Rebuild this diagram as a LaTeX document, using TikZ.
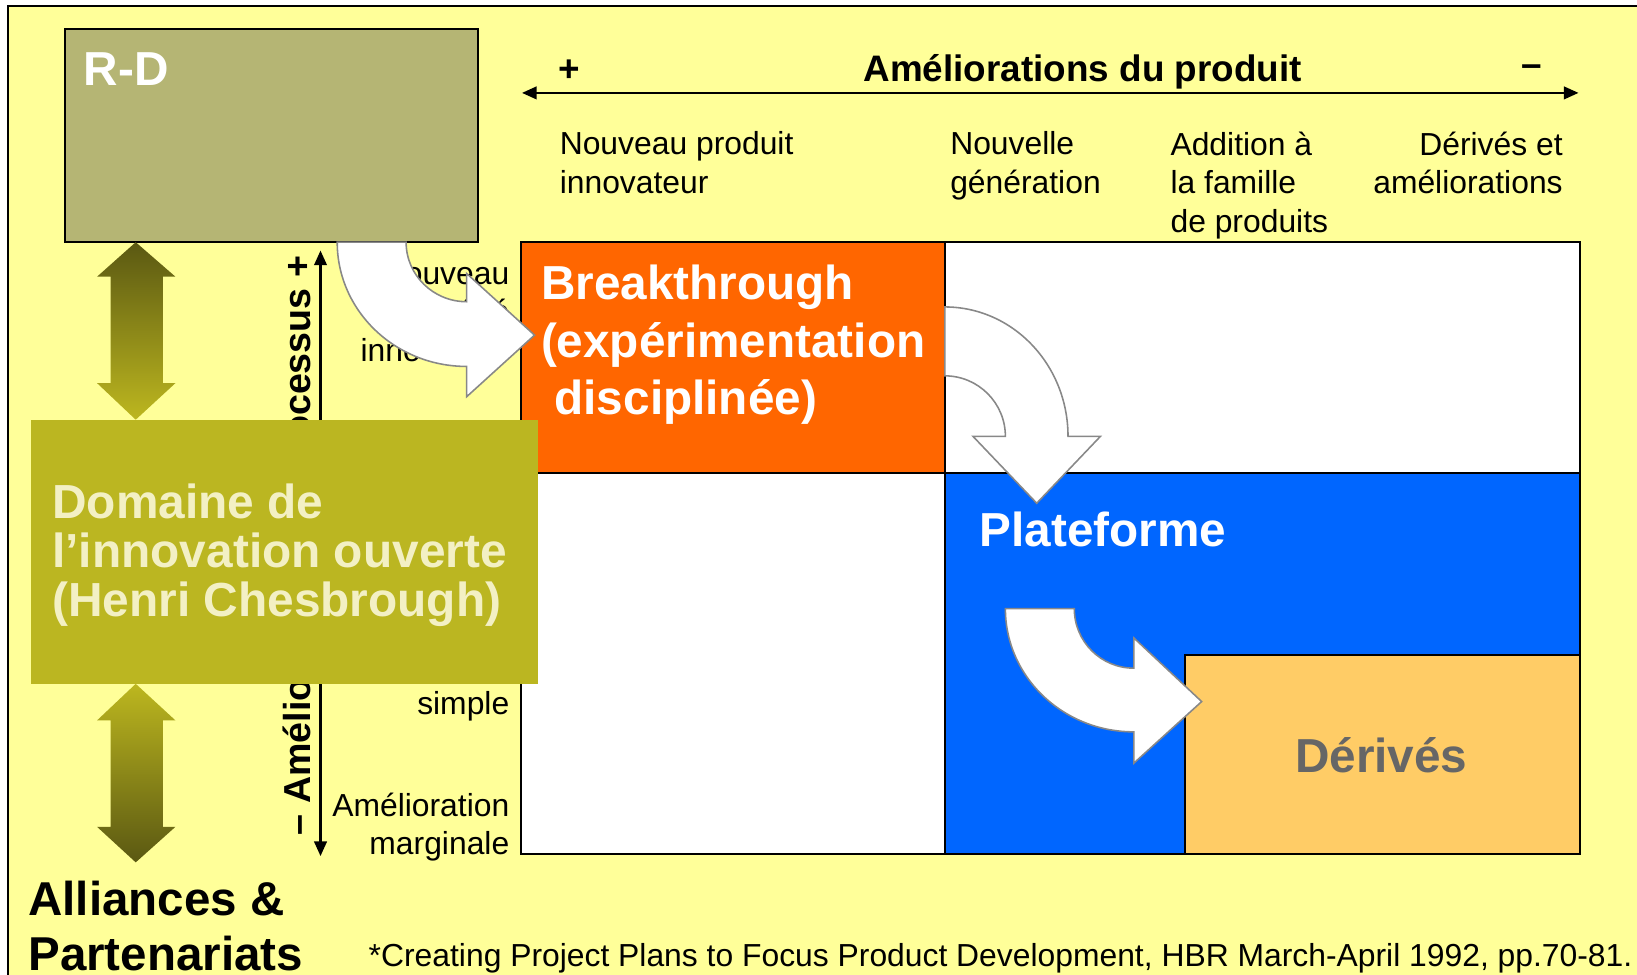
\documentclass[tikz,border=0pt]{standalone}
\usepackage{fontspec}
\setmainfont{Liberation Sans}
\usetikzlibrary{arrows.meta}
\definecolor{bgyellow}{HTML}{FFFF99}
\definecolor{rdfill}{HTML}{B5B574}
\definecolor{domfill}{HTML}{BBB621}
\definecolor{domtext}{HTML}{F3F0C4}
\definecolor{darkolive}{HTML}{5A5812}
\definecolor{brightolive}{HTML}{BDB71F}
\definecolor{orangecell}{HTML}{FF6600}
\definecolor{bluecell}{HTML}{0066FF}
\definecolor{derfill}{HTML}{FFCC66}
\definecolor{dertext}{HTML}{666666}
\definecolor{arrowgray}{HTML}{888888}
\tikzset{
  lbl/.style={font=\fontsize{30.5}{37}\selectfont, inner sep=0pt},
  hdr/.style={font=\bfseries\fontsize{35.3}{42}\selectfont, inner sep=0pt},
  axistxt/.style={font=\bfseries\fontsize{36}{42}\selectfont, inner sep=0pt},
  big/.style={font=\bfseries\fontsize{45.7}{55}\selectfont, inner sep=0pt},
  bendarrow/.style={fill=white, draw=arrowgray, line width=1.5pt, line join=miter},
  gridline/.style={draw=black, line width=2pt},
  axisline/.style={draw=black, line width=2.2pt, {Triangle[length=14pt,width=12pt]}-{Triangle[length=14pt,width=12pt]}}
}
\begin{document}
\begin{tikzpicture}[x=1pt,y=-1pt]
\useasboundingbox (0,0) rectangle (1568,933);
\clip (0,0) rectangle (1568,933);
\fill[white] (0,0) rectangle (1568,933);
% outer frame
\draw[fill=bgyellow, line width=2pt] (8,6) rectangle (1620,990);

% R-D box
\draw[fill=rdfill, line width=1.5pt] (62,28) rectangle (458,232);
\node[big, text=white, anchor=base west] (rdt) at (80,82) {R-D};

% double arrows
\shade[top color=darkolive, bottom color=brightolive]
  (130,232) -- (168,265) -- (156,265) -- (156,367) -- (168,367) -- (130,402)
  -- (93,367) -- (106,367) -- (106,265) -- (93,265) -- cycle;
\shade[top color=brightolive, bottom color=darkolive]
  (130,655) -- (168,690) -- (156,690) -- (156,792) -- (168,792) -- (130,826)
  -- (93,792) -- (106,792) -- (106,690) -- (93,690) -- cycle;

% horizontal axis
\coordinate (hl) at (500,89);
\coordinate (hr) at (1512,89);
\draw[axisline] (hl) -- (hr);
\node[hdr, anchor=base] (hp) at (545,78) {+};
\node[hdr, anchor=base] (ht) at (1037,78) {Améliorations du produit};
\node[hdr, anchor=base] (hm) at (1467,73) {–};

% column labels
\node[lbl, anchor=north west, align=left] (c1) at (536,126) {Nouveau produit\\innovateur};
\node[lbl, anchor=north west, align=left] (c2) at (910,126) {Nouvelle\\génération};
\node[lbl, anchor=north west, align=left] (c3) at (1121,126) {Addition à\\la famille\\de produits};
\node[lbl, anchor=north east, align=right] (c4) at (1497,126) {Dérivés et\\améliorations};

% grid cells
\fill[white] (499,232) rectangle (1513,818);
\fill[orangecell] (499,232) rectangle (905,453);
\fill[bluecell] (905,453) rectangle (1513,818);
\draw[gridline] (499,232) rectangle (1513,818);
\draw[gridline] (905,232) -- (905,818);
\draw[gridline] (499,453) -- (1513,453);
\draw[gridline, fill=derfill] (1135,627) rectangle (1513,818);

\node[big, text=white, anchor=north west, align=left] (bt) at (518,254)
  {Breakthrough\\(expérimentation\\\hspace*{13pt}disciplinée)};
\node[big, text=white, anchor=base west] (pf) at (938,523) {Plateforme};
\node[big, text=dertext, anchor=base] (dv) at (1323,740) {Dérivés};

% vertical axis
\coordinate (vb) at (307,820);
\coordinate (vt) at (307,240);
\draw[axisline] (vb) -- (vt);
\node[axistxt, rotate=90, anchor=base west] (ax1) at (297,800) {– Amélioration};
\node[axistxt, rotate=90, anchor=base east] (ax2) at (297,245) {du processus +};

% row labels
\node[lbl, anchor=north east, align=right] (r1) at (488,251) {Nouveau\\procédé\\innovateur};
\node[lbl, anchor=base east] (r3) at (488,684) {simple};
\node[lbl, anchor=north east, align=right] (r4) at (488,759) {Amélioration\\marginale};

% curved arrows
\draw[bendarrow] (323,232) .. controls (323,297.7) and (378.5,351) .. (447,351)
  -- (447,380) -- (512,321) -- (447,262) -- (447,289)
  .. controls (415,289) and (389,263.5) .. (389,232) -- cycle;
\draw[bendarrow] (905,294) .. controls (970.2,294) and (1023,349.5) .. (1023,418)
  -- (1054,418) -- (993,482) -- (932,418) -- (963,418)
  .. controls (963,386) and (937,360) .. (905,360) -- cycle;
\draw[bendarrow] (963,583) .. controls (963,648.2) and (1018.1,701) .. (1086,701)
  -- (1086,731) -- (1151,672) -- (1086,611) -- (1086,640)
  .. controls (1054.5,640) and (1029,614.5) .. (1029,583) -- cycle;

% Domaine box
\fill[domfill] (30,402) rectangle (515,655);
\node[font=\bfseries\fontsize{45.8}{47}\selectfont, inner sep=0pt, text=domtext, anchor=north west, align=left] (dom) at (50,463)
  {Domaine de\\l’innovation ouverte\\(Henri Chesbrough)};

% bottom texts
\node[font=\bfseries\fontsize{45.5}{52}\selectfont, inner sep=0pt, anchor=north west, align=left] (all) at (27,844)
  {Alliances \&\\Partenariats};
\node[font=\fontsize{30.5}{36}\selectfont, inner sep=0pt, anchor=base west] (cite) at (353,926)
  {*Creating Project Plans to Focus Product Development, HBR March-April 1992, pp.70-81.};
\end{tikzpicture}
\end{document}
